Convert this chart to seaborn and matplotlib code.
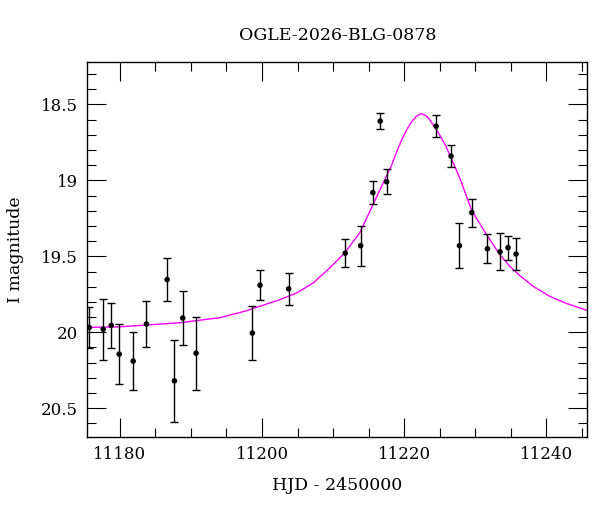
import numpy as np
import pandas as pd
import matplotlib
matplotlib.use("Agg")
import matplotlib.pyplot as plt
from matplotlib.ticker import MultipleLocator
import seaborn as sns

# Photometry (HJD - 2450000, I mag, error)
hjd = [11175.67, 11177.64, 11178.77, 11179.89, 11181.86, 11183.73, 11186.64,
       11187.67, 11188.84, 11190.72, 11198.64, 11199.72, 11203.75, 11211.72,
       11213.88, 11215.61, 11216.64, 11217.54, 11224.52, 11226.62, 11227.80,
       11229.54, 11231.74, 11233.52, 11234.64, 11235.77]
mag = [19.968, 19.980, 19.955, 20.144, 20.190, 19.946, 19.653,
       20.320, 19.906, 20.138, 20.005, 19.690, 19.714, 19.479,
       19.430, 19.080, 18.610, 19.009, 18.643, 18.840, 19.430,
       19.212, 19.450, 19.470, 19.443, 19.485]
err = [0.135, 0.200, 0.150, 0.200, 0.190, 0.153, 0.140,
       0.270, 0.175, 0.240, 0.180, 0.100, 0.105, 0.090,
       0.133, 0.075, 0.052, 0.081, 0.073, 0.072, 0.150,
       0.092, 0.095, 0.123, 0.078, 0.105]

# Model curve
model_t = [11175.43, 11180.03, 11188.47, 11194.09, 11197.85, 11202.53, 11204.88,
           11207.22, 11209.56, 11211.67, 11213.78, 11215.65, 11217.54, 11218.24,
           11218.95, 11219.65, 11220.35, 11221.05, 11221.76, 11222.46, 11223.16,
           11223.52, 11224.79, 11225.74, 11226.68, 11227.61, 11228.09, 11229.54,
           11231.60, 11233.47, 11234.88, 11236.29, 11238.16, 11240.51, 11242.86,
           11245.76]
model_mag = [19.968, 19.964, 19.937, 19.904, 19.858, 19.785, 19.741,
             19.675, 19.575, 19.476, 19.344, 19.157, 18.970, 18.901,
             18.813, 18.735, 18.669, 18.614, 18.577, 18.560, 18.577,
             18.595, 18.683, 18.760, 18.859, 18.958, 19.015, 19.200,
             19.355, 19.488, 19.565, 19.626, 19.697, 19.763, 19.810,
             19.856]

obs = pd.DataFrame({"hjd": hjd, "mag": mag, "err": err})
model = pd.DataFrame({"t": model_t, "m": model_mag})

sns.set_style("ticks")
plt.rcParams["font.family"] = ["DejaVu Serif"]
plt.rcParams["text.color"] = "black"
plt.rcParams["axes.labelcolor"] = "black"
plt.rcParams["xtick.color"] = "black"
plt.rcParams["ytick.color"] = "black"

fig = plt.figure(figsize=(6.0, 5.12), dpi=100)
ax = fig.add_axes([0.1455, 0.147, 0.8333, 0.732])

sns.lineplot(data=model, x="t", y="m", ax=ax, color="#ff00ff", lw=1.0,
             sort=False, zorder=2)
ax.errorbar(obs["hjd"], obs["mag"], yerr=obs["err"], fmt="none",
            ecolor="black", elinewidth=1.0, capsize=3.2, capthick=1.0, zorder=3)
sns.scatterplot(data=obs, x="hjd", y="mag", ax=ax, color="black", s=16,
                edgecolor="none", zorder=4)

ax.set_xlim(11175.4, 11245.8)
ax.set_ylim(20.688, 18.22)

ax.xaxis.set_major_locator(MultipleLocator(20))
ax.xaxis.set_minor_locator(MultipleLocator(5))
ax.yaxis.set_major_locator(MultipleLocator(0.5))
ax.yaxis.set_minor_locator(MultipleLocator(0.1))
ax.yaxis.set_major_formatter(plt.FuncFormatter(lambda v, p: f"{v:g}"))

ax.tick_params(which="both", direction="in", top=True, right=True,
               width=0.8, color="black", labelcolor="black", labelsize=12)
ax.tick_params(which="major", length=13.5, pad=7)
ax.tick_params(which="minor", length=6.8)
for s in ax.spines.values():
    s.set_linewidth(1.0)
    s.set_color("black")

ax.set_title("OGLE-2026-BLG-0878", fontsize=12.5, pad=16, color="black")
ax.set_xlabel("HJD - 2450000", fontsize=12.5, labelpad=10)
ax.set_ylabel("I magnitude", fontsize=12.5, labelpad=12)

fig.savefig("out.png", dpi=100)
